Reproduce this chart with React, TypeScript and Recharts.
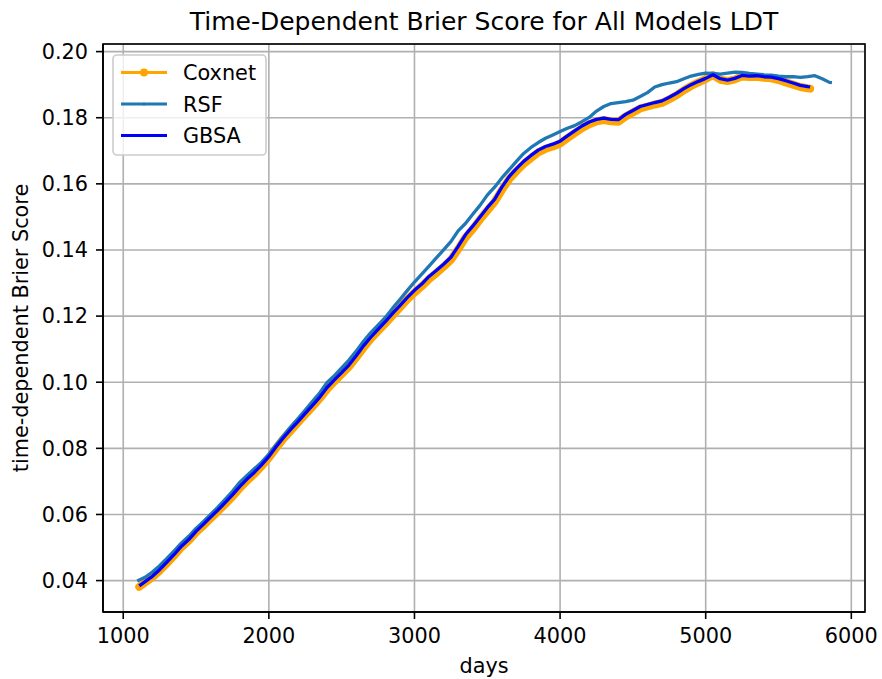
import { LineChart, Line, XAxis, YAxis, CartesianGrid } from "recharts";

// event times shared by Coxnet and GBSA (days)
const eventDays = [
  1110, 1150, 1200, 1250, 1300, 1350, 1400, 1450, 1500, 1550, 1600, 1650, 1700, 1750,
  1800, 1850, 1900, 1950, 2000, 2050, 2100, 2150, 2200, 2250, 2300, 2350, 2400, 2450,
  2500, 2550, 2600, 2650, 2700, 2750, 2800, 2850, 2900, 2950, 3000, 3050, 3100, 3150,
  3200, 3250, 3300, 3350, 3400, 3450, 3500, 3550, 3600, 3650, 3700, 3750, 3800, 3850,
  3900, 3950, 4000, 4050, 4100, 4150, 4200, 4250, 4300, 4350, 4400, 4450, 4500, 4550,
  4600, 4650, 4700, 4750, 4800, 4850, 4900, 4950, 5000, 5050, 5100, 5150, 5200, 5250,
  5300, 5350, 5400, 5450, 5500, 5550, 5600, 5650, 5700, 5717,
];

const coxnetScore = [
  0.0381, 0.0394, 0.0410, 0.0430, 0.0452, 0.0476, 0.0501, 0.0521, 0.0546, 0.0566, 0.0588, 0.0609, 0.0631, 0.0654,
  0.0679, 0.0702, 0.0722, 0.0746, 0.0771, 0.0801, 0.0829, 0.0853, 0.0878, 0.0902, 0.0926, 0.0951, 0.0979, 0.1002,
  0.1024, 0.1047, 0.1075, 0.1104, 0.1131, 0.1155, 0.1178, 0.1202, 0.1226, 0.1250, 0.1271, 0.1290, 0.1312, 0.1330,
  0.1349, 0.1370, 0.1402, 0.1437, 0.1463, 0.1492, 0.1519, 0.1545, 0.1581, 0.1614, 0.1638, 0.1660, 0.1678, 0.1695,
  0.1706, 0.1713, 0.1722, 0.1738, 0.1753, 0.1768, 0.1780, 0.1789, 0.1793, 0.1789, 0.1788, 0.1804, 0.1816, 0.1828,
  0.1834, 0.1840, 0.1845, 0.1856, 0.1868, 0.1883, 0.1896, 0.1907, 0.1917, 0.1929, 0.1915, 0.1911, 0.1916, 0.1925,
  0.1923, 0.1924, 0.1921, 0.1919, 0.1914, 0.1907, 0.1900, 0.1893, 0.1889, 0.1888,
];

const gbsaScore = [
  0.0384, 0.0397, 0.0413, 0.0433, 0.0456, 0.0479, 0.0504, 0.0524, 0.0549, 0.0570, 0.0592, 0.0613, 0.0636, 0.0659,
  0.0684, 0.0707, 0.0727, 0.0750, 0.0775, 0.0805, 0.0832, 0.0857, 0.0881, 0.0906, 0.0930, 0.0955, 0.0984, 0.1007,
  0.1029, 0.1052, 0.1080, 0.1110, 0.1136, 0.1160, 0.1183, 0.1208, 0.1232, 0.1256, 0.1278, 0.1297, 0.1320, 0.1338,
  0.1357, 0.1378, 0.1411, 0.1446, 0.1472, 0.1500, 0.1528, 0.1553, 0.1590, 0.1622, 0.1646, 0.1668, 0.1686, 0.1702,
  0.1713, 0.1720, 0.1729, 0.1745, 0.1760, 0.1775, 0.1787, 0.1795, 0.1799, 0.1795, 0.1794, 0.1810, 0.1822, 0.1834,
  0.1840, 0.1846, 0.1851, 0.1862, 0.1874, 0.1888, 0.1900, 0.1910, 0.1919, 0.1930, 0.1918, 0.1914, 0.1919, 0.1928,
  0.1926, 0.1927, 0.1924, 0.1923, 0.1918, 0.1912, 0.1905, 0.1898, 0.1894, 0.1893,
];

const rsfDays = [
  1096, 1150, 1200, 1250, 1300, 1350, 1400, 1450, 1500, 1550, 1600, 1650, 1700, 1750,
  1800, 1850, 1900, 1950, 2000, 2050, 2100, 2150, 2200, 2250, 2300, 2350, 2400, 2450,
  2500, 2550, 2600, 2650, 2700, 2750, 2800, 2850, 2900, 2950, 3000, 3050, 3100, 3150,
  3200, 3250, 3300, 3350, 3400, 3450, 3500, 3550, 3600, 3650, 3700, 3750, 3800, 3850,
  3900, 3950, 4000, 4050, 4100, 4150, 4200, 4250, 4300, 4350, 4400, 4450, 4500, 4550,
  4600, 4650, 4700, 4750, 4800, 4850, 4900, 4950, 5000, 5050, 5100, 5150, 5200, 5250,
  5300, 5350, 5400, 5450, 5500, 5550, 5600, 5650, 5700, 5750, 5800, 5850, 5867,
];

const rsfScore = [
  0.0399, 0.0410, 0.0426, 0.0445, 0.0467, 0.0490, 0.0514, 0.0534, 0.0558, 0.0578, 0.0600, 0.0622, 0.0646, 0.0670,
  0.0697, 0.0718, 0.0738, 0.0758, 0.0782, 0.0811, 0.0838, 0.0865, 0.0890, 0.0916, 0.0942, 0.0968, 0.0999, 0.1020,
  0.1043, 0.1067, 0.1094, 0.1124, 0.1150, 0.1173, 0.1196, 0.1224, 0.1250, 0.1277, 0.1303, 0.1327, 0.1351, 0.1376,
  0.1400, 0.1425, 0.1458, 0.1480, 0.1508, 0.1535, 0.1566, 0.1590, 0.1618, 0.1643, 0.1668, 0.1692, 0.1710, 0.1725,
  0.1738, 0.1748, 0.1758, 0.1768, 0.1776, 0.1788, 0.1801, 0.1820, 0.1834, 0.1843, 0.1846, 0.1849, 0.1853, 0.1864,
  0.1876, 0.1893, 0.1900, 0.1905, 0.1909, 0.1918, 0.1926, 0.1931, 0.1935, 0.1934, 0.1932, 0.1935, 0.1938, 0.1937,
  0.1934, 0.1932, 0.1930, 0.1929, 0.1926, 0.1924, 0.1924, 0.1922, 0.1924, 0.1927, 0.1918, 0.1907, 0.1906,
];

const xTicks = [1000, 2000, 3000, 4000, 5000, 6000];
const yTicks = [0.04, 0.06, 0.08, 0.1, 0.12, 0.14, 0.16, 0.18, 0.2];

const FONT = "DejaVu Sans, sans-serif";
const ORANGE = "#ffa500";
const STEEL = "#1f77b4";
const BLUE = "#0000ff";

const coxnetData = eventDays.map((d, i) => ({ day: d, score: coxnetScore[i] }));
const gbsaData = eventDays.map((d, i) => ({ day: d, score: gbsaScore[i] }));
const rsfData = rsfDays.map((d, i) => ({ day: d, score: rsfScore[i] }));

const tickStyle = { fontSize: 20.8, fill: "#000", fontFamily: FONT };

// plot box in page pixels
const L = 103, T = 44, R = 865, B = 612;

function Overlay() {
  const rows = [
    { name: "Coxnet", color: ORANGE, y: 72.5, dot: 4 },
    { name: "RSF", color: STEEL, y: 104, dot: 1.5 },
    { name: "GBSA", color: BLUE, y: 135.5, dot: 0 },
  ];
  return (
    <svg
      width={882}
      height={679}
      style={{ position: "absolute", left: 0, top: 0, pointerEvents: "none" }}
    >
      <text x={484} y={29.5} textAnchor="middle" fontSize={25} fontFamily={FONT} fill="#000">
        Time-Dependent Brier Score for All Models LDT
      </text>
      <rect x={L} y={T} width={R - L} height={B - T} fill="none" stroke="#000" strokeWidth={1.6} />
      <rect
        x={113} y={55} width={153} height={100} rx={4}
        fill="#fff" fillOpacity={0.8} stroke="#cccccc" strokeWidth={1.6}
      />
      {rows.map((r) => (
        <g key={r.name}>
          <line x1={121} x2={167} y1={r.y} y2={r.y} stroke={r.color} strokeWidth={3.1} />
          {r.dot > 0 && <circle cx={144} cy={r.y} r={r.dot} fill={r.color} />}
          <text x={183} y={r.y + 7.6} fontSize={20.8} fontFamily={FONT} fill="#000">
            {r.name}
          </text>
        </g>
      ))}
    </svg>
  );
}

export default function App() {
  return (
    <div style={{ position: "fixed", left: 0, top: 0, width: 882, height: 679, background: "#fff" }}>
      <LineChart width={882} height={679} margin={{ top: T, right: 882 - R, bottom: 0, left: 0 }}>
        <CartesianGrid stroke="#b0b0b0" strokeWidth={1.6} />
        <XAxis
          dataKey="day"
          type="number"
          domain={[861, 6094]}
          ticks={xTicks}
          allowDataOverflow
          height={679 - B}
          tick={tickStyle}
          tickSize={7}
          tickMargin={9}
          stroke="#000"
          strokeWidth={1.6}
          label={{
            content: () => (
              <text x={484} y={673} textAnchor="middle" fontSize={20.8} fontFamily={FONT} fill="#000">
                days
              </text>
            ),
          }}
        />
        <YAxis
          type="number"
          domain={[0.0305, 0.2023]}
          ticks={yTicks}
          allowDataOverflow
          width={L}
          tick={tickStyle}
          tickSize={7}
          tickMargin={8}
          tickFormatter={(v: number) => v.toFixed(2)}
          stroke="#000"
          strokeWidth={1.6}
          label={{
            content: () => (
              <text
                x={28}
                y={328}
                transform="rotate(-90 28 328)"
                textAnchor="middle"
                fontSize={20.8}
                fontFamily={FONT}
                fill="#000"
              >
                time-dependent Brier Score
              </text>
            ),
          }}
        />
        <Line
          data={coxnetData}
          dataKey="score"
          stroke={ORANGE}
          strokeWidth={8}
          strokeLinecap="round"
          strokeLinejoin="round"
          dot={false}
          isAnimationActive={false}
        />
        <Line
          data={rsfData}
          dataKey="score"
          stroke={STEEL}
          strokeWidth={3.3}
          strokeLinejoin="round"
          dot={false}
          isAnimationActive={false}
        />
        <Line
          data={gbsaData}
          dataKey="score"
          stroke={BLUE}
          strokeWidth={3.3}
          strokeLinejoin="round"
          dot={false}
          isAnimationActive={false}
        />
      </LineChart>
      <Overlay />
    </div>
  );
}
